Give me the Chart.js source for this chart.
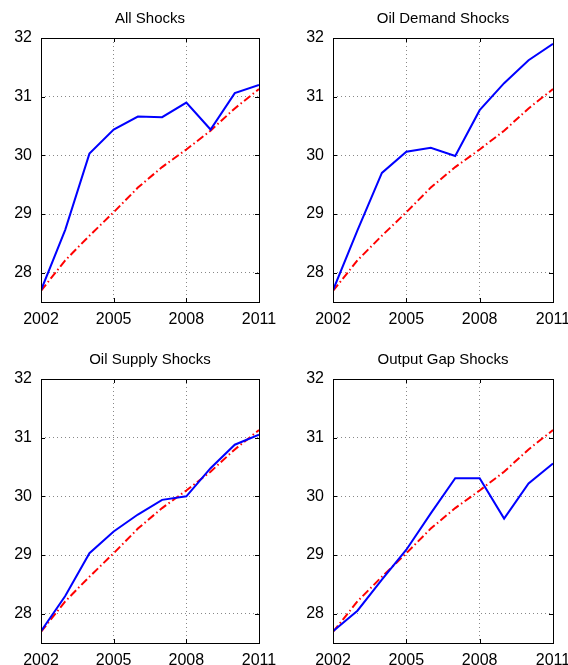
<!DOCTYPE html>
<html>
<head>
<meta charset="utf-8">
<script src="https://cdn.jsdelivr.net/npm/chart.js@4.4.1/dist/chart.umd.min.js"></script>
<style>
  html, body { margin: 0; padding: 0; background: #fff; overflow: hidden; }
  body { width: 568px; height: 665px; position: relative; }
  .panel { position: absolute; width: 300px; height: 340px; }
</style>
</head>
<body>
<div class="panel" style="left:0px;top:0px"><canvas id="allShocks" width="300" height="340"></canvas></div>
<div class="panel" style="left:292px;top:0px"><canvas id="demandShocks" width="300" height="340"></canvas></div>
<div class="panel" style="left:0px;top:341px"><canvas id="supplyShocks" width="300" height="340"></canvas></div>
<div class="panel" style="left:292px;top:341px"><canvas id="gapShocks" width="300" height="340"></canvas></div>
<script>
// years on the horizontal axis
const years = [2002, 2003, 2004, 2005, 2006, 2007, 2008, 2009, 2010, 2011];
const xTicks = [2002, 2005, 2008, 2011];
const yTicks = [28, 29, 30, 31, 32];

// red dash-dot path, same in every panel
const baseline = [27.69, 28.21, 28.63, 29.03, 29.45, 29.80, 30.10, 30.42, 30.80, 31.13];

// blue paths, one per shock decomposition
const allShocks    = [27.70, 28.73, 30.03, 30.44, 30.66, 30.65, 30.90, 30.44, 31.06, 31.20];
const demandShocks = [27.70, 28.72, 29.70, 30.06, 30.13, 29.99, 30.77, 31.23, 31.62, 31.90];
const supplyShocks = [27.70, 28.30, 29.03, 29.40, 29.69, 29.94, 30.00, 30.48, 30.88, 31.05];
const gapShocks    = [27.70, 28.05, 28.58, 29.09, 29.71, 30.31, 30.31, 29.62, 30.22, 30.56];

const FONT = 'Liberation Sans, Arial, Helvetica, sans-serif';

// matlab-like axes box with small inward ticks
const boxPlugin = {
    id: 'axesBox',
    afterDraw(chart) {
        const ctx = chart.ctx;
        const a = chart.chartArea;
        const xs = chart.scales.x, ys = chart.scales.y;
        ctx.save();
        ctx.strokeStyle = '#000';
        ctx.lineWidth = 1;
        ctx.strokeRect(Math.round(a.left) + 0.5, Math.round(a.top) + 0.5,
                       Math.round(a.right - a.left), Math.round(a.bottom - a.top));
        ctx.beginPath();
        xTicks.forEach(v => {
            const px = Math.round(xs.getPixelForValue(v)) + 0.5;
            ctx.moveTo(px, a.bottom); ctx.lineTo(px, a.bottom - 4);
            ctx.moveTo(px, a.top); ctx.lineTo(px, a.top + 4);
        });
        yTicks.forEach(v => {
            const py = Math.round(ys.getPixelForValue(v)) + 0.5;
            ctx.moveTo(a.left, py); ctx.lineTo(a.left + 4, py);
            ctx.moveTo(a.right, py); ctx.lineTo(a.right - 4, py);
        });
        ctx.stroke();
        ctx.restore();
    }
};

function makePanel(canvasId, title, values, padRight) {
    const toPoints = arr => years.map((yr, i) => ({ x: yr, y: arr[i] }));
    return new Chart(document.getElementById(canvasId), {
        type: 'line',
        data: {
            datasets: [{
                data: toPoints(values),
                borderColor: '#0000ff',
                borderWidth: 2,
                pointRadius: 0,
                tension: 0
            }, {
                data: toPoints(baseline),
                borderColor: '#ff0000',
                borderWidth: 2,
                borderDash: [8, 3, 1.5, 3],
                pointRadius: 0,
                tension: 0
            }]
        },
        options: {
            responsive: false,
            animation: false,
            layout: { padding: { left: 0, right: padRight, top: 0, bottom: 8 } },
            plugins: {
                legend: { display: false },
                tooltip: { enabled: false },
                title: {
                    display: true,
                    fullSize: false,
                    text: title,
                    color: '#000',
                    font: { family: FONT, size: 15, weight: 'normal' },
                    padding: { top: 10, bottom: 10 }
                }
            },
            scales: {
                x: {
                    type: 'linear',
                    min: 2002,
                    max: 2011,
                    afterBuildTicks: s => { s.ticks = xTicks.map(v => ({ value: v })); },
                    afterFit: s => { s.height = 30; },
                    grid: { color: '#888', lineWidth: 1, drawTicks: false },
                    border: { display: false, dash: [1, 3] },
                    ticks: {
                        color: '#000',
                        padding: 8,
                        maxRotation: 0,
                        font: { family: FONT, size: 16 },
                        callback: v => String(v)
                    }
                },
                y: {
                    min: 27.5,
                    max: 32,
                    afterBuildTicks: s => { s.ticks = yTicks.map(v => ({ value: v })); },
                    afterFit: s => { s.width = 41; },
                    grid: { color: '#888', lineWidth: 1, drawTicks: false },
                    border: { display: false, dash: [1, 3] },
                    ticks: {
                        color: '#000',
                        padding: 9,
                        font: { family: FONT, size: 16 },
                        callback: v => String(v)
                    }
                }
            }
        },
        plugins: [boxPlugin]
    });
}

makePanel('allShocks', 'All Shocks', allShocks, 41);
makePanel('demandShocks', 'Oil Demand Shocks', demandShocks, 39);
makePanel('supplyShocks', 'Oil Supply Shocks', supplyShocks, 41);
makePanel('gapShocks', 'Output Gap Shocks', gapShocks, 39);
</script>
</body>
</html>
